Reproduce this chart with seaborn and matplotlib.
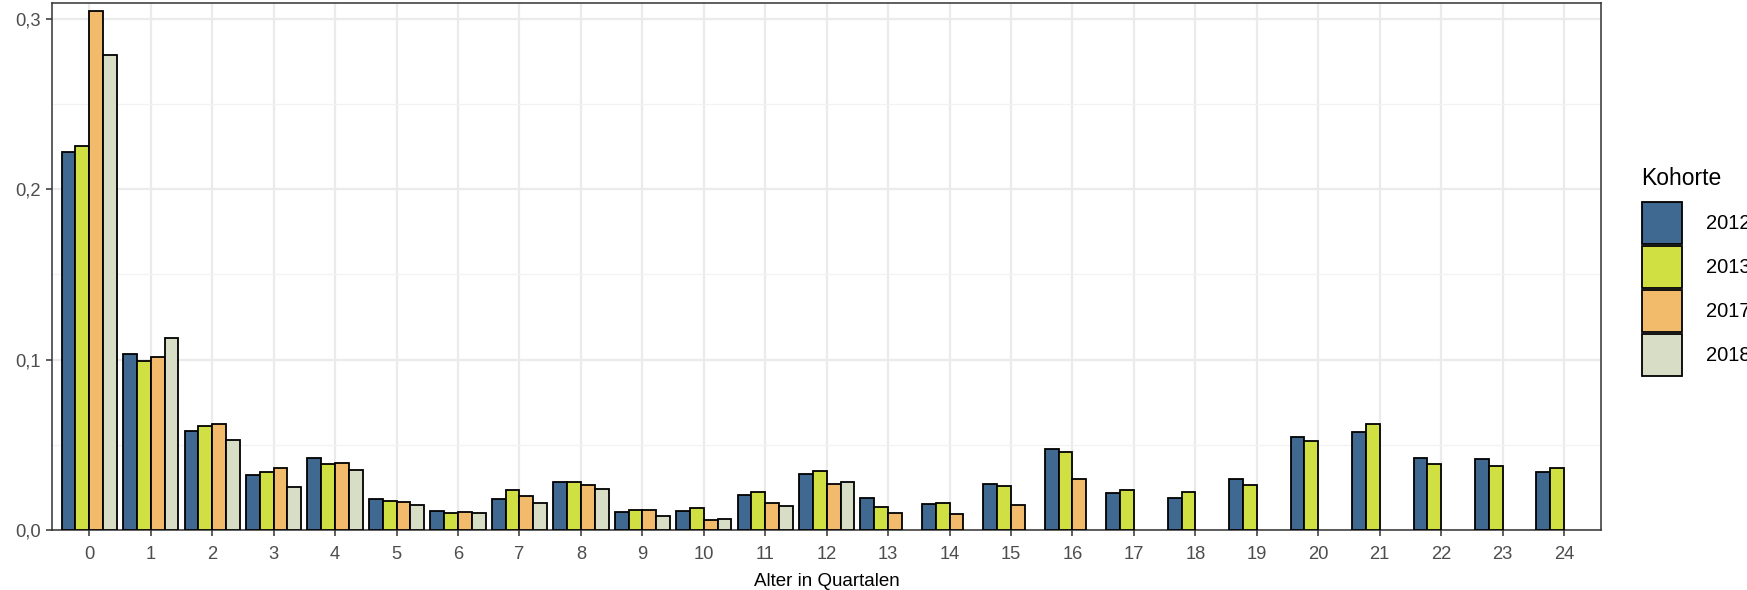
import numpy as np
import pandas as pd
import seaborn as sns
import matplotlib.pyplot as plt
from matplotlib.ticker import FuncFormatter, MultipleLocator

# Anteil je Alter (Quartale) und Kohorte
alter = list(range(25))
kohorten = ["2012", "2013", "2017", "2018"]
k2012 = [0.222, 0.1033, 0.0582, 0.0321, 0.0424, 0.0182, 0.0112, 0.0182, 0.0281, 0.0108,
         0.0112, 0.0206, 0.0329, 0.0190, 0.0153, 0.0271, 0.0475, 0.0220, 0.0188, 0.0300,
         0.0547, 0.0578, 0.0422, 0.0414, 0.0343]
k2013 = [0.2253, 0.0993, 0.0609, 0.0341, 0.0389, 0.0169, 0.0097, 0.0233, 0.0279, 0.0120,
         0.0129, 0.0222, 0.0349, 0.0133, 0.0161, 0.0257, 0.0455, 0.0235, 0.0225, 0.0265,
         0.0525, 0.0625, 0.0390, 0.0373, 0.0363]
k2017 = [0.3046, 0.1013, 0.0624, 0.0363, 0.0396, 0.0165, 0.0108, 0.0200, 0.0262, 0.0116,
         0.0061, 0.0157, 0.0269, 0.0102, 0.0094, 0.0147, 0.0302]
k2018 = [0.2787, 0.1125, 0.0530, 0.0255, 0.0354, 0.0147, 0.0097, 0.0158, 0.0239, 0.0082,
         0.0065, 0.0141, 0.0280]
farben = ["#3F6990", "#D0E043", "#F1BB6B", "#D8DDC5"]

# long format
rows = []
for k, werte in zip(kohorten, [k2012, k2013, k2017, k2018]):
    for a, w in zip(alter, werte):
        rows.append({"Alter": a, "Kohorte": k, "Anteil": w})
df = pd.DataFrame(rows)

plt.rcParams["font.family"] = ["Liberation Sans", "DejaVu Sans"]

fig, ax = plt.subplots(figsize=(17.47, 5.9), dpi=100)
fig.subplots_adjust(left=0.030, right=0.9164, top=0.9944, bottom=0.1017)

sns.barplot(data=df, x="Alter", y="Anteil", hue="Kohorte", order=alter,
            hue_order=kohorten, palette=farben, width=0.9, gap=0,
            saturation=1, edgecolor="black", linewidth=1.3, errorbar=None,
            ax=ax, zorder=3)

ax.set_xlim(-0.6, 24.6)
ax.set_ylim(0, 0.3092)
ax.yaxis.set_major_locator(MultipleLocator(0.1))
ax.yaxis.set_minor_locator(MultipleLocator(0.05))
ax.yaxis.set_major_formatter(FuncFormatter(lambda v, p: f"{v:.1f}".replace(".", ",")))

ax.set_axisbelow(True)
ax.grid(axis="both", which="major", color="#EBEBEB", linewidth=1.6, zorder=0)
ax.grid(axis="y", which="minor", color="#F2F2F2", linewidth=0.9, zorder=0)
for s in ax.spines.values():
    s.set_color("#333333")
    s.set_linewidth(1.1)

ax.tick_params(axis="both", which="major", labelsize=13.2, labelcolor="#4D4D4D",
               color="#333333", length=4.5, width=1.1)
ax.tick_params(axis="x", which="major", pad=7)
ax.tick_params(axis="y", which="major", pad=4)
ax.tick_params(axis="y", which="minor", length=0)
ax.set_xlabel("Alter in Quartalen", fontsize=13.5, color="black", labelpad=7)
ax.set_ylabel("")

handles, labels = ax.get_legend_handles_labels()
leg = ax.legend(handles, labels, title="Kohorte", loc="upper left",
                bbox_to_anchor=(1.021, 0.705), frameon=False, fontsize=14.5,
                title_fontsize=16.5, handlelength=2.0, handleheight=2.85,
                labelspacing=0.08, handletextpad=1.22, borderaxespad=0)
leg._legend_box.align = "left"
leg._legend_box.sep = 9

fig.savefig("out.png", dpi=100)
